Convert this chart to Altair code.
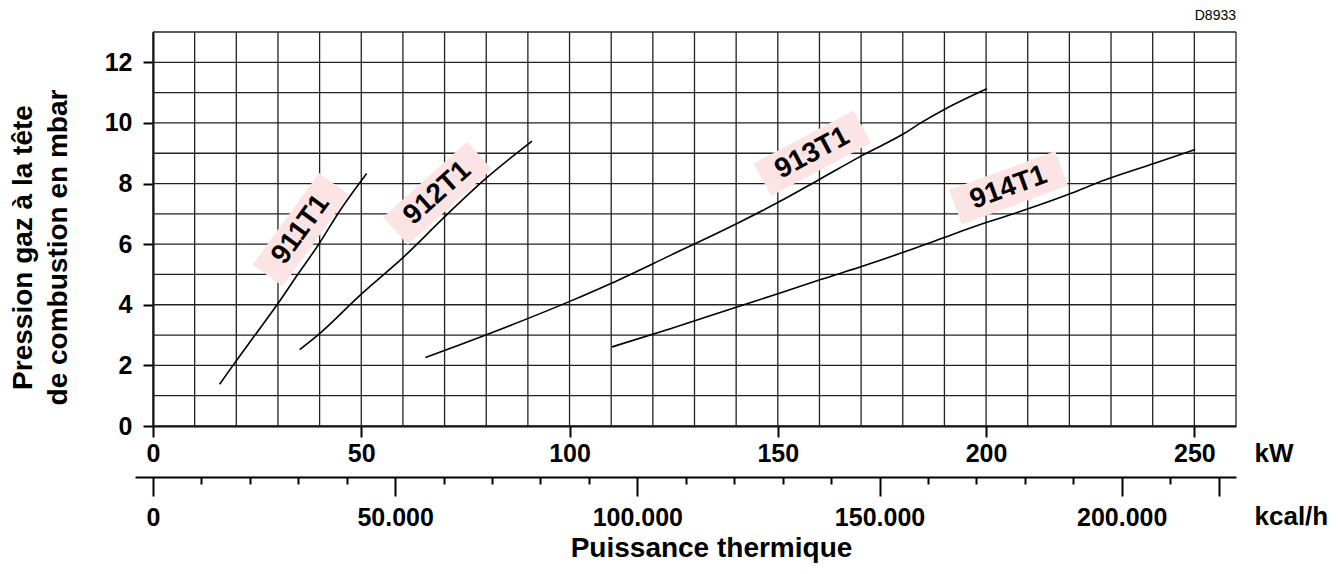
import altair as alt
import pandas as pd

# ---------------- data ----------------
kw_range = [0, 260]
mbar_range = [0, 13]
kw_grid = list(range(0, 261, 10))
mbar_grid = list(range(0, 14))
kw_ticks = [0, 50, 100, 150, 200, 250]
mbar_ticks = [0, 2, 4, 6, 8, 10, 12]
kcal_ticks = list(range(0, 220001, 10000))

kw_911 = [16.0, 19.2, 24.5, 30.0, 34.9, 40.0, 44.5, 51.3]
mbar_911 = [1.38, 2.0, 3.0, 4.04, 5.03, 6.04, 7.03, 8.33]
kw_912 = [35.2, 40.0, 50.0, 60.2, 70.0, 80.2, 91.0]
mbar_912 = [2.52, 3.05, 4.35, 5.58, 6.9, 8.2, 9.4]
kw_913 = [65.4, 80.2, 100.2, 110.2, 124.2, 140.2, 150.2, 160.3, 170.3, 180.3, 184.3, 190.3, 200.2]
mbar_913 = [2.26, 3.02, 4.12, 4.72, 5.63, 6.68, 7.39, 8.16, 8.93, 9.65, 10.0, 10.47, 11.13]
kw_914 = [110.2, 124.2, 140.2, 150.2, 160.3, 170.3, 180.3, 190.3, 200.2, 208.7, 220.3, 227.8, 240.3, 250.2]
mbar_914 = [2.61, 3.21, 3.93, 4.37, 4.83, 5.27, 5.74, 6.24, 6.72, 7.10, 7.67, 8.08, 8.66, 9.12]

label_names = ["911T1", "912T1", "913T1", "914T1"]
label_kw = [35.5, 68.3, 158.3, 205.4]
label_mbar = [6.48, 7.68, 9.0, 7.86]
label_angle = [306, 318, 332, 340]

note_text = ["D8933"]
note_kw = [260]
note_mbar = [13.53]

# ---------------- build ----------------
W, H = 1083, 394
FONT = "Liberation Sans"
BOX = "M-1,-0.327L1,-0.327L1,0.327L-1,0.327Z"

rows = []
for name, kws, ms in [("911T1", kw_911, mbar_911), ("912T1", kw_912, mbar_912),
                      ("913T1", kw_913, mbar_913), ("914T1", kw_914, mbar_914)]:
    for k, m in zip(kws, ms):
        rows.append({"serie": name, "kw": k, "mbar": m})
curve_df = pd.DataFrame(rows)
lab_df = pd.DataFrame({"name": label_names, "kw": label_kw, "mbar": label_mbar, "ang": label_angle})

xs = alt.Scale(domain=kw_range, nice=False, zero=False)
ys = alt.Scale(domain=mbar_range, nice=False)

x_axis = alt.Axis(values=kw_ticks, title="kW", grid=False, tickSize=11, tickWidth=2,
                  tickColor="black", domainColor="black", domainWidth=2,
                  labelFont=FONT, labelFontSize=25, labelFontWeight="bold", labelColor="black",
                  labelPadding=4, labelFlush=False, labelOverlap=False,
                  titleFont=FONT, titleFontSize=26, titleFontWeight="bold", titleColor="black",
                  titleX=1101, titleY=27, titleAlign="left", titleBaseline="middle")
y_axis = alt.Axis(values=mbar_ticks, title=["Pression gaz à la tête", "de combustion en  mbar"],
                  grid=False, tickSize=10, tickWidth=2, tickColor="black",
                  domainColor="black", domainWidth=2,
                  labelFont=FONT, labelFontSize=25, labelFontWeight="bold", labelColor="black",
                  labelPadding=11, labelFlush=False, labelOverlap=False,
                  titleFont=FONT, titleFontSize=28, titleFontWeight="bold", titleColor="black",
                  titleAngle=270, titleX=-130, titleY=215, titleAlign="center",
                  titleBaseline="middle", titleLineHeight=35)


def X():
    return alt.X("kw:Q", scale=xs, axis=x_axis)


def Y():
    return alt.Y("mbar:Q", scale=ys, axis=y_axis)


grid_v = alt.Chart(pd.DataFrame({"kw": kw_grid})).mark_rule(color="#222", strokeWidth=1.3).encode(x=X())
grid_h = alt.Chart(pd.DataFrame({"mbar": mbar_grid})).mark_rule(color="#222", strokeWidth=1.3).encode(y=Y())
boxes = alt.Chart(lab_df).mark_point(shape=BOX, size=12769, filled=True, fill="#fde4e4",
                                     opacity=1, strokeWidth=0).encode(
    x=X(), y=Y(), angle=alt.Angle("ang:Q", scale=None))
lines = alt.Chart(curve_df).mark_line(color="black", strokeWidth=1.6, interpolate="monotone").encode(
    x=X(), y=Y(), detail="serie:N")
texts = alt.Chart(lab_df).mark_text(font=FONT, fontSize=28, fontWeight="bold", color="black",
                                    align="center", baseline="middle").encode(
    x=X(), y=Y(), text="name:N", angle=alt.Angle("ang:Q", scale=None))
note = alt.Chart(pd.DataFrame({"kw": note_kw, "mbar": note_mbar, "t": note_text})).mark_text(
    font=FONT, fontSize=14, align="right", baseline="middle", color="black").encode(
    x=X(), y=Y(), text="t:N")

main = alt.layer(grid_v, grid_h, boxes, lines, texts, note)

kcal_axis = alt.Axis(orient="bottom", offset=51, values=kcal_ticks, title="kcal/h", grid=False,
                     labelExpr="datum.value === 0 ? '0' : ((datum.value % 50000 === 0 && datum.value <= 200000) ? format(datum.value / 1000, 'd') + '.000' : '')",
                     tickSize={"condition": {"test": "datum.value % 50000 === 0 || datum.value === 220000", "value": 19}, "value": 7},
                     tickWidth=2, tickColor="black", domainColor="black", domainWidth=2,
                     labelFont=FONT, labelFontSize=25, labelFontWeight="bold", labelColor="black",
                     labelPadding=9, labelFlush=False, labelOverlap=False,
                     titleFont=FONT, titleFontSize=26, titleFontWeight="bold", titleColor="black",
                     titleX=1101, titleY=39, titleAlign="left", titleBaseline="middle")
kcal = alt.Chart(pd.DataFrame({"kcal": kcal_ticks})).mark_point(opacity=0).encode(
    x=alt.X("kcal:Q", scale=alt.Scale(domain=[-3716, 223600], range=[-18, W], nice=False, zero=False),
            axis=kcal_axis))

chart = alt.layer(main, kcal).resolve_scale(x="independent").properties(
    width=W, height=H,
    padding={"left": 145, "top": 24, "right": 96, "bottom": 140},
    autosize=alt.AutoSizeParams(type="none"),
    title=alt.TitleParams("Puissance thermique", orient="bottom", anchor="middle", frame="group",
                          dx=17, offset=5, font=FONT, fontSize=28, fontWeight="bold", color="black"),
).configure_view(stroke="transparent")

chart.save("out.html", embed_options={"renderer": "svg", "actions": False})
